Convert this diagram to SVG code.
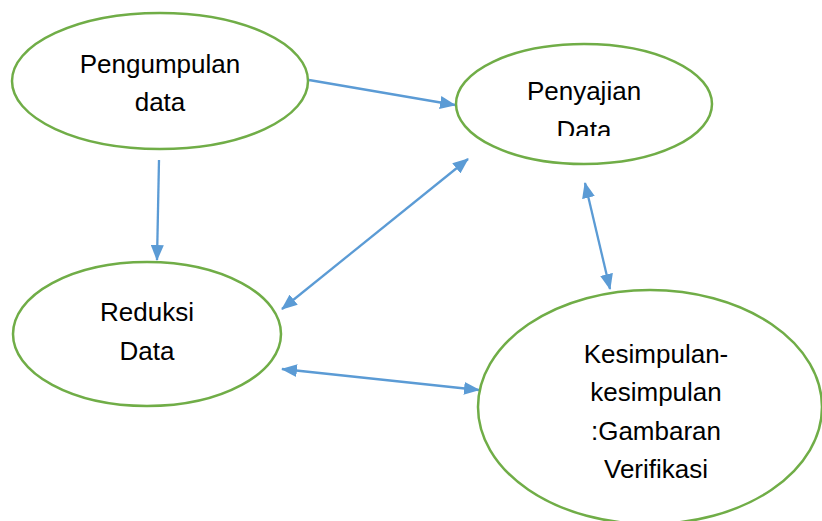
<svg xmlns="http://www.w3.org/2000/svg" width="822" height="521" viewBox="0 0 822 521">
<style>
.node ellipse{fill:#fff;stroke:#70AD47;stroke-width:2.5}
.node text{font-family:"Liberation Sans",Arial,sans-serif;font-size:26px;fill:#000;text-anchor:middle}
.conn line{stroke:#5B9BD5;stroke-width:2.3}
</style>
<defs>
<marker id="ah" viewBox="0 0 16 13" markerWidth="16" markerHeight="13" refX="15" refY="6.5" orient="auto-start-reverse" markerUnits="userSpaceOnUse">
<path d="M0,0 L16,6.5 L0,13 z" fill="#5B9BD5"/>
</marker>
<clipPath id="clipP"><rect x="440" y="40" width="300" height="96"/></clipPath>
</defs>
<rect width="822" height="521" fill="#fff"/>
<g class="conn">
<line x1="309" y1="80" x2="455" y2="105" marker-end="url(#ah)"/>
<line x1="159" y1="160" x2="157" y2="260" marker-end="url(#ah)"/>
<line x1="468" y1="159" x2="282" y2="309" marker-start="url(#ah)" marker-end="url(#ah)"/>
<line x1="585" y1="183" x2="610" y2="289" marker-start="url(#ah)" marker-end="url(#ah)"/>
<line x1="282" y1="369" x2="479" y2="390" marker-start="url(#ah)" marker-end="url(#ah)"/>
</g>
<g id="pengumpulan" class="node">
<ellipse cx="160" cy="81" rx="148" ry="68"/>
<text x="160" y="73">Pengumpulan</text>
<text x="160" y="111">data</text>
</g>
<g id="penyajian" class="node">
<ellipse cx="584" cy="104" rx="128" ry="60"/>
<text x="584" y="100">Penyajian</text>
<text x="584" y="139" clip-path="url(#clipP)">Data</text>
</g>
<g id="reduksi" class="node">
<ellipse cx="147" cy="334" rx="134" ry="72"/>
<text x="147" y="321">Reduksi</text>
<text x="147" y="360">Data</text>
</g>
<g id="kesimpulan" class="node">
<ellipse cx="650" cy="407" rx="172" ry="117"/>
<text x="656" y="363">Kesimpulan-</text>
<text x="656" y="401">kesimpulan</text>
<text x="656" y="440">:Gambaran</text>
<text x="656" y="478">Verifikasi</text>
</g>
</svg>
